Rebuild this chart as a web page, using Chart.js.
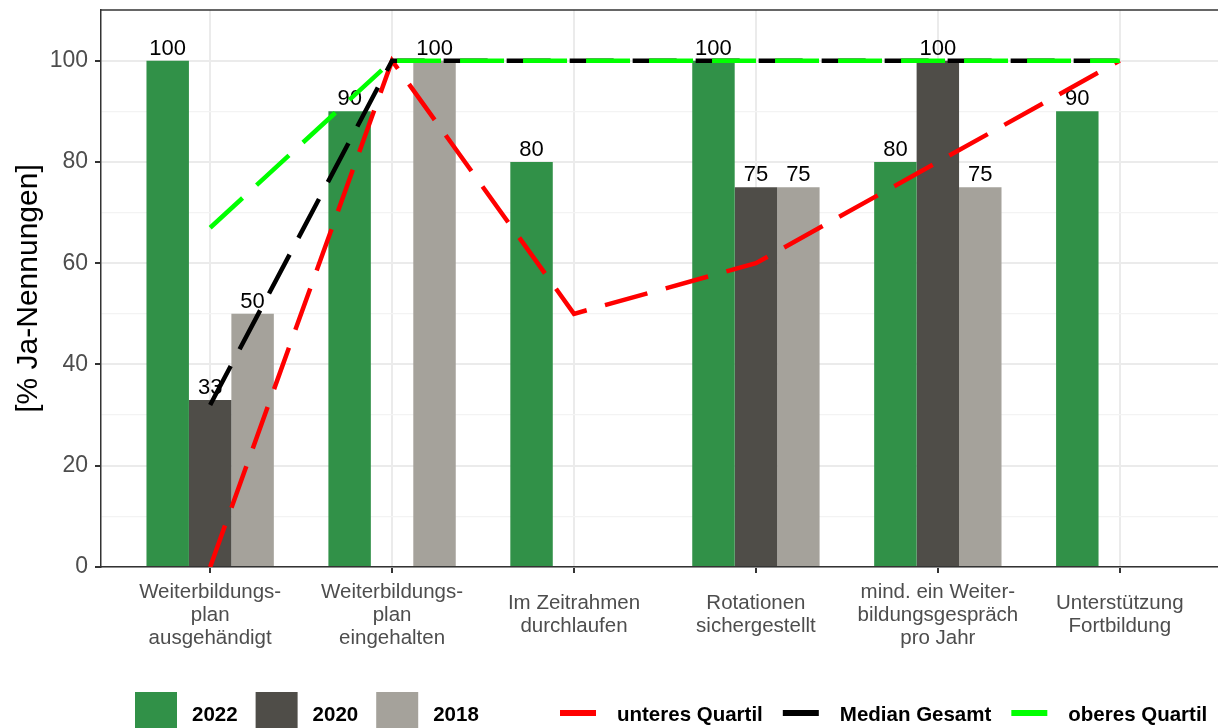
<!DOCTYPE html>
<html>
<head>
<meta charset="utf-8">
<title>Weiterbildung</title>
<script src="https://cdn.jsdelivr.net/npm/chart.js"></script>
<style>
  body { margin: 0; background: #fff; }
  #wrap { width: 1218px; height: 728px; }
</style>
</head>
<body>
<div id="wrap"><canvas id="myChart"></canvas></div>
<script>
// categories (multi-line tick labels)
var categories = [
  ["Weiterbildungs-", "plan", "ausgehändigt"],
  ["Weiterbildungs-", "plan", "eingehalten"],
  ["Im Zeitrahmen", "durchlaufen"],
  ["Rotationen", "sichergestellt"],
  ["mind. ein Weiter-", "bildungsgespräch", "pro Jahr"],
  ["Unterstützung", "Fortbildung"]
];
var yearLabels = ["2022", "2020", "2018"];
var v2022 = [100, 90, 80, 100, 80, 90];
var v2020 = [33, null, null, 75, 100, null];
var v2018 = [50, 100, null, 75, 75, null];

var lineLabels = ["unteres Quartil", "Median Gesamt", "oberes Quartil"];
var unteresQuartil = [0, 100, 50, 60, 80, 100];
var medianGesamt = [32, 100, 100, 100, 100, 100];
var oberesQuartil = [67, 100, 100, 100, 100, 100];

var yTickValues = [0, 10, 20, 30, 40, 50, 60, 70, 80, 90, 100];

var FONT = '"Liberation Sans", Arial, sans-serif';
Chart.defaults.font.family = FONT;

function toPoints(arr) {
  return arr.map(function (v, i) { return { x: i + 1, y: v }; });
}

function barSet(label, values, color) {
  return {
    type: 'bar', label: label, data: toPoints(values),
    backgroundColor: color, borderWidth: 0,
    categoryPercentage: 0.7, barPercentage: 1.0, order: 4
  };
}
function lineSet(label, values, color, order) {
  return {
    type: 'line', label: label, data: toPoints(values),
    borderColor: color, backgroundColor: color,
    borderWidth: 4.5, borderDash: [44, 19], borderCapStyle: 'butt',
    pointRadius: 0, tension: 0, fill: false, order: order
  };
}

// numbers above bars
var barLabels = {
  id: 'barLabels',
  afterDatasetDraw: function (chart, args) {
    var ds = chart.data.datasets[args.index];
    if (ds.type !== 'bar') return;
    var ctx = chart.ctx;
    ctx.save();
    ctx.font = '22px ' + FONT;
    ctx.fillStyle = '#000';
    ctx.textAlign = 'center';
    ctx.textBaseline = 'alphabetic';
    args.meta.data.forEach(function (bar, i) {
      var v = ds.data[i].y;
      if (v === null) return;
      ctx.fillText(String(v), bar.x, bar.y - 6);
    });
    ctx.restore();
  }
};

// top panel border
var panelTop = {
  id: 'panelTop',
  afterDraw: function (chart) {
    var a = chart.chartArea, ctx = chart.ctx;
    ctx.save();
    ctx.strokeStyle = '#333';
    ctx.lineWidth = 1.5;
    ctx.beginPath();
    ctx.moveTo(a.left, a.top);
    ctx.lineTo(a.right, a.top);
    ctx.stroke();
    ctx.restore();
  }
};

// bottom legend like the original
var bottomLegend = {
  id: 'bottomLegend',
  afterDraw: function (chart) {
    var ctx = chart.ctx;
    var y = 713;
    ctx.save();
    ctx.font = 'bold 20.5px ' + FONT;
    ctx.textBaseline = 'middle';
    ctx.textAlign = 'left';
    var x = 135;
    chart.data.datasets.forEach(function (ds) {
      if (ds.type !== 'bar') return;
      ctx.fillStyle = ds.backgroundColor;
      ctx.fillRect(x, y - 21, 42, 42);
      x += 42 + 15;
      ctx.fillStyle = '#000';
      ctx.fillText(ds.label, x, y + 2);
      x += ctx.measureText(ds.label).width + 18;
    });
    x = 560;
    chart.data.datasets.forEach(function (ds) {
      if (ds.type !== 'line') return;
      ctx.strokeStyle = ds.borderColor;
      ctx.lineWidth = 6;
      ctx.beginPath();
      ctx.moveTo(x, y);
      ctx.lineTo(x + 36, y);
      ctx.stroke();
      x += 36 + 21;
      ctx.fillStyle = '#000';
      ctx.fillText(ds.label, x, y + 2);
      x += ctx.measureText(ds.label).width + 20;
    });
    ctx.restore();
  }
};

var ctx = document.getElementById('myChart').getContext('2d');
new Chart(ctx, {
  type: 'bar',
  data: {
    datasets: [
      barSet(yearLabels[0], v2022, '#319148'),
      barSet(yearLabels[1], v2020, '#4f4d48'),
      barSet(yearLabels[2], v2018, '#a5a29b'),
      lineSet(lineLabels[0], unteresQuartil, '#ff0000', 3),
      lineSet(lineLabels[1], medianGesamt, '#000000', 2),
      lineSet(lineLabels[2], oberesQuartil, '#00ff00', 1)
    ]
  },
  options: {
    responsive: true,
    maintainAspectRatio: false,
    animation: false,
    layout: { padding: { top: 10, left: 0, right: 0, bottom: 0 } },
    plugins: { legend: { display: false }, tooltip: { enabled: false } },
    scales: {
      x: {
        type: 'linear',
        min: 0.4,
        max: 6.54,
        offset: false,
        afterBuildTicks: function (s) {
          s.ticks = categories.map(function (c, i) { return { value: i + 1 }; });
        },
        afterFit: function (s) {
          s.height = 161;
          s.paddingLeft = 0; s.paddingRight = 0;
        },
        ticks: {
          autoSkip: false,
          maxRotation: 0,
          crossAlign: 'center',
          padding: 19,
          color: '#4d4d4d',
          font: { size: 20.5, lineHeight: 1.12 },
          callback: function (value, index) { return categories[index]; }
        },
        grid: { offset: false, color: '#ebebeb', lineWidth: 2, tickColor: '#333', tickLength: 6 },
        border: { color: '#333', width: 1.5 }
      },
      y: {
        min: 0,
        max: 110,
        afterBuildTicks: function (s) {
          s.ticks = yTickValues.map(function (v) { return { value: v }; });
        },
        afterFit: function (s) {
          s.width = 101;
          s.paddingTop = 0; s.paddingBottom = 0;
        },
        ticks: {
          padding: 7,
          color: '#4d4d4d',
          font: { size: 23 },
          callback: function (value) { return value % 20 === 0 ? String(value) : ''; }
        },
        grid: {
          color: function (c) { return c.tick && c.tick.value % 20 === 0 ? '#ebebeb' : '#f3f3f3'; },
          lineWidth: function (c) { return c.tick && c.tick.value % 20 === 0 ? 2 : 1.2; },
          tickColor: function (c) { return c.tick && c.tick.value % 20 === 0 ? '#333' : 'rgba(0,0,0,0)'; },
          tickLength: 6
        },
        border: { color: '#333', width: 1.5 },
        title: {
          display: true,
          text: '[% Ja-Nennungen]',
          color: '#000',
          font: { size: 30, lineHeight: 1.2 },
          padding: { top: 11, bottom: 0 }
        }
      }
    }
  },
  plugins: [barLabels, panelTop, bottomLegend]
});
</script>
</body>
</html>
